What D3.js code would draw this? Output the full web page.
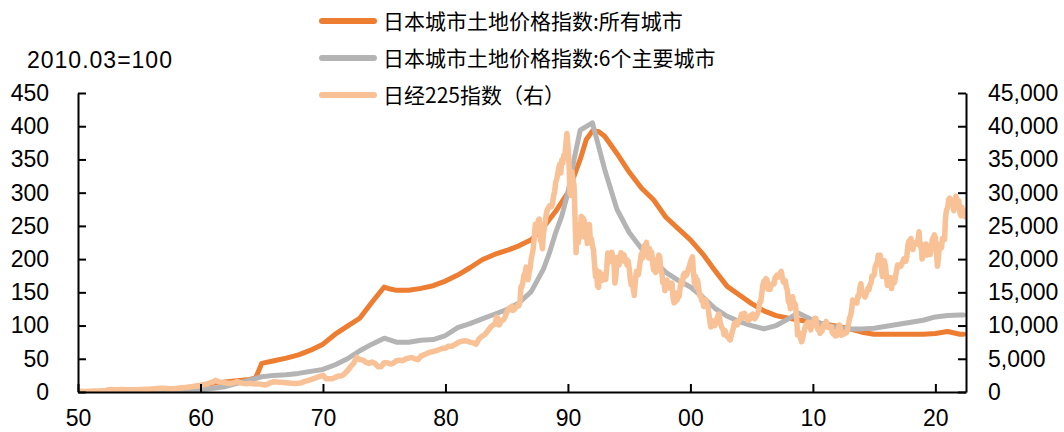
<!DOCTYPE html>
<html>
<head>
<meta charset="utf-8">
<script src="https://cdn.jsdelivr.net/npm/d3@7"></script>
<style>
  html, body { margin: 0; padding: 0; background: #fff; }
  svg { display: block; }
  .num { font-family: "Liberation Sans", Arial, sans-serif; font-size: 23px; fill: #000; }
  .leg { font-family: "Noto Sans CJK SC", sans-serif; font-size: 21px; fill: #000; }
</style>
</head>
<body>
<svg id="chart" width="1064" height="432"></svg>
<script>
// Urban land price index, all cities (2010.03 = 100), semiannual readings
const allCityDates = [1955.25, 1956, 1957, 1958, 1959, 1960, 1961, 1962, 1963, 1964, 1964.5, 1965, 1966, 1967, 1968, 1969, 1970, 1971, 1972, 1973, 1974, 1975, 1975.5, 1976, 1977, 1978, 1979, 1980, 1981, 1982, 1983, 1984, 1985, 1986, 1987, 1988, 1989, 1990, 1991, 1991.5, 1992, 1992.5, 1993, 1994, 1995, 1996, 1997, 1998, 1999, 2000, 2001, 2002, 2003, 2004, 2005, 2006, 2007, 2008, 2009, 2010, 2011, 2012, 2013, 2014, 2015, 2016, 2017, 2018, 2019, 2020, 2021, 2022, 2022.3];
const allCityValues = [2, 3, 4, 5, 7, 10, 13, 15, 17, 19, 21, 43, 47, 51, 56, 63, 72, 87, 99, 111, 135, 158, 155, 153, 153, 156, 160, 167, 176, 187, 199, 207, 213, 220, 229, 248, 272, 300, 350, 380, 393, 392, 385, 359, 331, 307, 289, 263, 246, 229, 208, 183, 159, 146, 133, 122, 115, 111, 108, 105, 102, 99, 95, 90, 87, 87, 87, 87, 87, 88, 91, 87, 87];

// Urban land price index, six major cities
const sixCityDates = [1956.5, 1958, 1960, 1962, 1964, 1965, 1966, 1967, 1968, 1969, 1970, 1971, 1972, 1973, 1974, 1975, 1976, 1977, 1978, 1979, 1980, 1981, 1982, 1983, 1984, 1985, 1986, 1987, 1988, 1988.5, 1989, 1989.5, 1990, 1990.5, 1991, 1992, 1993, 1994, 1995, 1996, 1997, 1998, 1999, 2000, 2001, 2002, 2003, 2004, 2005, 2006, 2007, 2008, 2008.8, 2010, 2011, 2012, 2013, 2014, 2015, 2016, 2017, 2018, 2019, 2020, 2021, 2022, 2022.3];
const sixCityValues = [1, 2, 3, 8, 18, 23, 25, 26, 28, 31, 34, 41, 50, 62, 72, 81, 75, 75, 78, 79, 85, 97, 103, 110, 117, 124, 134, 151, 185, 210, 240, 265, 300, 350, 394, 405, 335, 275, 240, 216, 198, 180, 168, 158, 143, 126, 114, 106, 100, 95, 100, 110, 119, 108, 101, 97, 95, 95, 96, 99, 102, 105, 108, 113, 115, 116, 116];

// Nikkei 225: quarterly closes 1950–1983
const nikkeiQuarterStart = 1950;
const nikkeiQuarterly = [
  105, 101, 91, 102,   125, 140, 160, 166,   200, 240, 330, 362,   340, 350, 370, 377,
  340, 330, 340, 356,   360, 370, 400, 425,   450, 480, 510, 549,   580, 520, 470, 474,
  520, 560, 610, 666,   720, 800, 850, 874,   1000, 1100, 1200, 1356,   1500, 1750, 1500, 1432,
  1400, 1300, 1300, 1420,   1550, 1400, 1300, 1225,   1300, 1250, 1200, 1216,   1150, 1050, 1200, 1417,
  1550, 1500, 1450, 1432,   1400, 1350, 1300, 1283,   1300, 1400, 1600, 1714,   1850, 2000, 2200, 2358,
  2500, 2000, 2000, 1987,   2200, 2400, 2400, 2713,   3200, 3800, 4300, 5207,   4900, 4800, 4500, 4306,
  4500, 4300, 3800, 3817,   4400, 4400, 4200, 4358,   4700, 4800, 4700, 4990,   5100, 5200, 5000, 4866,
  5400, 5600, 5800, 6001,   6100, 6200, 6400, 6569,   6600, 6900, 6900, 7116,   7400, 7600, 7700, 7681,
  7500, 7400, 7200, 8016,   8400, 8700, 9300, 9893
];

// Nikkei 225: monthly closes from January 1984
const nikkeiMonthStart = 1984;
const nikkeiMonthly = [
  10196, 10400, 11270, 11190, 10100, 10130, 10560, 10800, 10800, 10870, 11170, 11543,
  11990, 12330, 12580, 12370, 12690, 12880, 12290, 12350, 12630, 12720, 12820, 13113,
  13020, 13640, 15860, 15830, 16650, 17650, 17930, 18790, 17850, 16910, 17960, 18701,
  20020, 20770, 21570, 23270, 25230, 24180, 24490, 25850, 26010, 22770, 22690, 21564,
  23720, 24880, 25830, 27060, 27460, 27770, 28000, 27890, 27920, 28420, 29580, 30159,
  31580, 31990, 32840, 33710, 34270, 32950, 34950, 34430, 35640, 35550, 37270, 38916,
  37190, 34590, 29980, 29590, 33130, 31940, 31040, 25980, 20980, 25190, 22450, 23849,
  23290, 26410, 26290, 26110, 25790, 23290, 24120, 22340, 23920, 25220, 22690, 22984,
  22020, 21340, 19350, 17390, 18350, 15950, 15760, 18060, 17400, 16770, 17680, 16925,
  17020, 16950, 18590, 20920, 20550, 19590, 20380, 21030, 20110, 19700, 16410, 17417,
  20230, 19110, 19110, 19730, 20970, 20640, 20450, 20630, 19560, 19990, 19080, 19723,
  18650, 17050, 16140, 16810, 15440, 14520, 16680, 18120, 17910, 17650, 18740, 19868,
  20810, 20130, 21410, 22040, 21960, 22530, 20690, 20170, 21560, 20470, 21020, 19361,
  18330, 18560, 18000, 19150, 20070, 20600, 20330, 18230, 17890, 16460, 16630, 15259,
  16630, 16830, 16530, 15640, 15670, 15830, 16380, 14110, 13410, 13560, 14880, 13842,
  14500, 14370, 15840, 16700, 16110, 17530, 17860, 17440, 17600, 17940, 18560, 18934,
  19540, 19960, 20340, 17970, 16330, 17410, 15730, 16860, 15750, 14540, 14650, 13786,
  13840, 12880, 12990, 13930, 13260, 12970, 11860, 10710, 9770, 10370, 10700, 10543,
  9990, 10590, 11020, 11490, 11760, 10620, 10000, 9620, 9380, 8640, 9220, 8579,
  8340, 8360, 7970, 7830, 8420, 9080, 9560, 10340, 10220, 10560, 10100, 10677,
  10780, 11040, 11720, 11760, 11240, 11860, 11330, 11080, 10820, 10770, 10900, 11489,
  11390, 11740, 11670, 11010, 11280, 11580, 11900, 12410, 13570, 13610, 14870, 16111,
  16650, 16210, 17060, 16910, 15470, 15510, 15460, 16140, 16130, 16400, 16270, 17226,
  17380, 17600, 17290, 17400, 17880, 18140, 17250, 16570, 16790, 16740, 15680, 15308,
  13590, 13600, 12530, 13850, 14340, 13480, 13380, 13070, 11260, 8580, 8510, 8860,
  7990, 7570, 8110, 8830, 9520, 9960, 10360, 10490, 10130, 10030, 9350, 10546,
  10200, 10130, 11090, 11060, 9770, 9380, 9540, 8820, 9370, 9200, 9940, 10229,
  10240, 10620, 9760, 9850, 9690, 9820, 9830, 8960, 8700, 8990, 8430, 8455,
  8800, 9720, 10080, 9520, 8540, 9010, 8700, 8840, 8870, 8930, 9450, 10395,
  11140, 11560, 12400, 13860, 13770, 13680, 13670, 13390, 14460, 14330, 15660, 16291,
  14910, 14840, 14830, 14300, 14630, 15160, 15620, 15420, 16170, 16410, 17460, 17451,
  17670, 18800, 19210, 19520, 20560, 20240, 20590, 18890, 17390, 19080, 19750, 19034,
  17520, 16030, 16760, 16670, 17230, 15580, 16570, 16890, 16450, 17430, 18310, 19114,
  19040, 19120, 18910, 19200, 19650, 20030, 19930, 19650, 20360, 22010, 22720, 22765,
  23100, 22070, 21450, 22470, 22200, 22300, 22550, 22870, 24120, 21920, 22350, 20015,
  20770, 21390, 21210, 22260, 20600, 21280, 21520, 20700, 21760, 22930, 23290, 23657,
  23210, 21140, 18920, 20190, 21880, 22290, 21710, 23140, 23190, 22980, 26430, 27444,
  27660, 28970, 29180, 28810, 28860, 28790, 27280, 28090, 29450, 28890, 27820, 28792,
  27000, 26530, 27820, 26850, 27280, 26390, 26600
];

const leftTicks = [0, 50, 100, 150, 200, 250, 300, 350, 400, 450];
const rightTicks = [0, 5000, 10000, 15000, 20000, 25000, 30000, 35000, 40000, 45000];
const yearTicks = [1950, 1960, 1970, 1980, 1990, 2000, 2010, 2020];

const seriesNames = ["日本城市土地价格指数:所有城市", "日本城市土地价格指数:6个主要城市", "日经225指数（右）"];
const seriesColors = ["#ED7D31", "#B4B4B4", "#F8C196"];
const unitLabel = "2010.03=100";

const svg = d3.select("#chart");
const plot = { left: 78, right: 966, top: 93, bottom: 392 };

const x = d3.scaleLinear().domain([1950, 2022.5]).range([plot.left, plot.right]);
const yL = d3.scaleLinear().domain([0, 450]).range([plot.bottom, plot.top]);
const yR = d3.scaleLinear().domain([0, 45000]).range([plot.bottom, plot.top]);

svg.append("defs").append("clipPath").attr("id", "plotClip")
  .append("rect")
  .attr("x", plot.left).attr("y", plot.top - 10)
  .attr("width", plot.right - plot.left).attr("height", plot.bottom - plot.top + 10);

const allCity = allCityDates.map((d, i) => [d, allCityValues[i]]);
const sixCity = sixCityDates.map((d, i) => [d, sixCityValues[i]]);
const nikkei = nikkeiQuarterly.map((v, i) => [nikkeiQuarterStart + i / 4, v])
  .concat(nikkeiMonthly.map((v, i) => [nikkeiMonthStart + i / 12, v]));

const lineL = d3.line().x(d => x(d[0])).y(d => yL(d[1]));
const lineR = d3.line().x(d => x(d[0])).y(d => yR(d[1]));

const lines = svg.append("g").attr("clip-path", "url(#plotClip)")
  .attr("fill", "none").attr("stroke-linejoin", "round").attr("stroke-linecap", "round");

lines.append("path").attr("d", lineL(allCity)).attr("stroke", seriesColors[0]).attr("stroke-width", 5);
lines.append("path").attr("d", lineL(sixCity)).attr("stroke", seriesColors[1]).attr("stroke-width", 5);
lines.append("path").attr("d", lineR(nikkei)).attr("stroke", seriesColors[2]).attr("stroke-width", 5.5);

// Axes: ticks point into the plot area
const axisStyle = g => {
  g.select(".domain").attr("stroke", "#000").attr("stroke-width", 2);
  g.selectAll(".tick line").attr("stroke", "#000").attr("stroke-width", 2);
  g.selectAll("text").attr("class", "num").attr("font-size", null).attr("font-family", null).attr("fill", "#000");
};

svg.append("g")
  .attr("transform", `translate(${plot.left},0)`)
  .call(d3.axisLeft(yL).tickValues(leftTicks).tickSize(-8).tickSizeOuter(0).tickPadding(29).tickFormat(d3.format("d")))
  .call(axisStyle);

svg.append("g")
  .attr("transform", `translate(${plot.right},0)`)
  .call(d3.axisRight(yR).tickValues(rightTicks).tickSize(-8).tickSizeOuter(0).tickPadding(22).tickFormat(d3.format(",")))
  .call(axisStyle);

svg.append("g")
  .attr("transform", `translate(0,${plot.bottom})`)
  .call(d3.axisBottom(x).tickValues(yearTicks).tickSize(-8).tickSizeOuter(0).tickPadding(18)
    .tickFormat(d => String(d % 100).padStart(2, "0")))
  .call(axisStyle);

svg.append("text").attr("class", "num")
  .attr("x", 27).attr("y", 68)
  .attr("letter-spacing", "1px")
  .text(unitLabel);

// Legend
const legend = svg.append("g");
seriesNames.forEach((name, i) => {
  const ly = 21 + i * 37;
  legend.append("line")
    .attr("x1", 322).attr("x2", 374).attr("y1", ly).attr("y2", ly)
    .attr("stroke", seriesColors[i]).attr("stroke-width", 6).attr("stroke-linecap", "round");
  legend.append("text").attr("class", "leg")
    .attr("x", 383).attr("y", ly).attr("dy", "0.36em")
    .text(name);
});
</script>
</body>
</html>
